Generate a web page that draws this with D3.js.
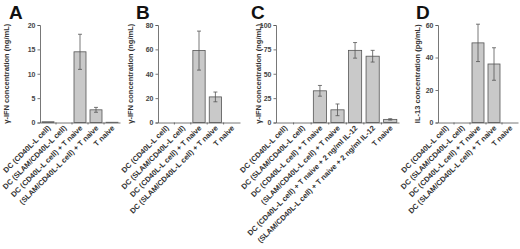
<!DOCTYPE html>
<html><head><meta charset="utf-8">
<script src="https://cdn.jsdelivr.net/npm/d3@7"></script>
<style>
body{margin:0;background:#fff;}
svg{display:block;font-family:"Liberation Sans",Arial,sans-serif;}
</style></head>
<body><svg id="c" width="520" height="249"></svg>
<script>
const catsA = ["DC (CD40L-L cell)", "DC (SLAM/CD40L-L cell)", "DC (CD40L-L cell) + T naive", "(SLAM/CD40L-L cell) + T naive", "T naive"];
const catsB = ["DC (CD40L-L cell)", "DC (SLAM/CD40L-L cell)", "DC (CD40L-L cell) + T naive", "DC (SLAM/CD40L-L cell) + T naive", "T naive"];
const catsC = ["DC (CD40L-L cell)", "DC (SLAM/CD40L-L cell)", "DC (CD40L-L cell) + T naive", "(SLAM/CD40L-L cell) + T naive", "DC (CD40L-L cell) + T naive + 2 ng/ml IL-12", "(SLAM/CD40L-L cell) + T naive + 2 ng/ml IL-12", "T naive"];
const catsD = ["DC (CD40L-L cell)", "DC (SLAM/CD40L-L cell)", "DC (CD40L-L cell) + T naive", "DC (SLAM/CD40L-L cell) + T naive", "T naive"];
const valsA = [0.15, 0, 14.5, 2.6, 0.05];
const errA  = [0, 0, 3.6, 0.5, 0];
const valsB = [0, 0, 59, 21, 0];
const errB  = [0, 0, 16, 4, 0];
const valsC = [0, 0, 32.5, 13, 74, 68, 3.2];
const errC  = [0, 0, 5.5, 6, 8, 6, 0.7];
const valsD = [0, 0, 49, 36, 0];
const errD  = [0, 0, 11.5, 10, 0];
const ticksA = [0, 5, 10, 15, 20];
const ticksB = [0, 20, 40, 60, 80];
const ticksC = [0, 25, 50, 75, 100];
const ticksD = [0, 20, 40, 60];
const letters = ["A", "B", "C", "D"];
const ylabels = ["\u03b3-IFN concentration (ng/mL)", "\u03b3-IFN concentration (ng/mL)", "\u03b3-IFN concentration (ng/mL)", "IL-13 concentration (pg/mL)"];

const panels = [
  {cats: catsA, vals: valsA, err: errA, ticks: ticksA, x0: 40, x1: 120, ylx: 6, lx: 9},
  {cats: catsB, vals: valsB, err: errB, ticks: ticksB, x0: 158, x1: 240, ylx: 130, lx: 136},
  {cats: catsC, vals: valsC, err: errC, ticks: ticksC, x0: 276, x1: 399, ylx: 258, lx: 251},
  {cats: catsD, vals: valsD, err: errD, ticks: ticksD, x0: 438, x1: 518, ylx: 417, lx: 416}
];
const svg = d3.select("#c");
const yTop = 25, yBot = 122.5;
panels.forEach((p, i) => {
  const g = svg.append("g");
  const x = d3.scaleBand().domain(p.cats).range([p.x0, p.x1]).paddingInner(0.25).paddingOuter(0.125);
  const xb = d3.scaleBand().domain(p.cats).range([p.x0, p.x1]);
  const y = d3.scaleLinear().domain([0, d3.max(p.ticks)]).range([yBot, yTop]);
  g.selectAll("rect.bar").data(p.vals).join("rect")
    .attr("x", (d, j) => x(p.cats[j]))
    .attr("width", x.bandwidth())
    .attr("y", d => y(d))
    .attr("height", d => yBot - y(d))
    .attr("fill", "#c9c9c9").attr("stroke", "#555").attr("stroke-width", 0.8);
  p.vals.forEach((v, j) => {
    const e = p.err[j];
    if (!e) return;
    const cx = x(p.cats[j]) + x.bandwidth() / 2;
    g.append("line").attr("x1", cx).attr("x2", cx).attr("y1", y(v + e)).attr("y2", y(v - e)).attr("stroke", "#555").attr("stroke-width", 0.8);
    [v + e, v - e].forEach(t => g.append("line").attr("x1", cx - 2).attr("x2", cx + 2).attr("y1", y(t)).attr("y2", y(t)).attr("stroke", "#555").attr("stroke-width", 0.8));
  });
  const ya = g.append("g").attr("transform", `translate(${p.x0},0)`)
    .call(d3.axisLeft(y).tickValues(p.ticks).tickSize(2.5).tickPadding(2));
  ya.selectAll("path,line").attr("stroke", "#555").attr("stroke-width", 0.8);
  ya.selectAll("text").attr("font-size", 7).attr("font-weight", "bold").attr("fill", "#444").attr("font-family", "Liberation Sans, Arial, sans-serif");
  const xa = g.append("g").attr("transform", `translate(0,${yBot})`)
    .call(d3.axisBottom(xb).tickSize(0).tickFormat(""));
  xa.select("path").attr("stroke", "#555").attr("stroke-width", 0.8);
  g.selectAll("line.bt").data(p.cats.slice(1)).join("line").attr("class", "bt")
    .attr("x1", d => xb(d)).attr("x2", d => xb(d)).attr("y1", yBot).attr("y2", yBot + 2)
    .attr("stroke", "#555").attr("stroke-width", 0.8);
  g.selectAll("text.cat").data(p.cats).join("text").attr("class", "cat")
    .attr("transform", d => `translate(${xb(d) + xb.bandwidth() / 2 + 3},${yBot + 6}) rotate(-45)`)
    .attr("text-anchor", "end")
    .attr("font-size", 7.5).attr("font-weight", "bold").attr("fill", "#333")
    .text(d => d);
  g.append("text").attr("transform", `translate(${p.ylx},${(yTop + yBot) / 2}) rotate(-90)`)
    .attr("text-anchor", "middle").attr("dy", "0.35em")
    .attr("font-size", 7.5).attr("font-weight", "bold").attr("fill", "#333")
    .text(ylabels[i]);
  g.append("text").attr("x", p.lx).attr("y", 19).attr("font-size", 19).attr("font-weight", "bold").attr("fill", "#111")
    .text(letters[i]);
});
</script></body></html>
